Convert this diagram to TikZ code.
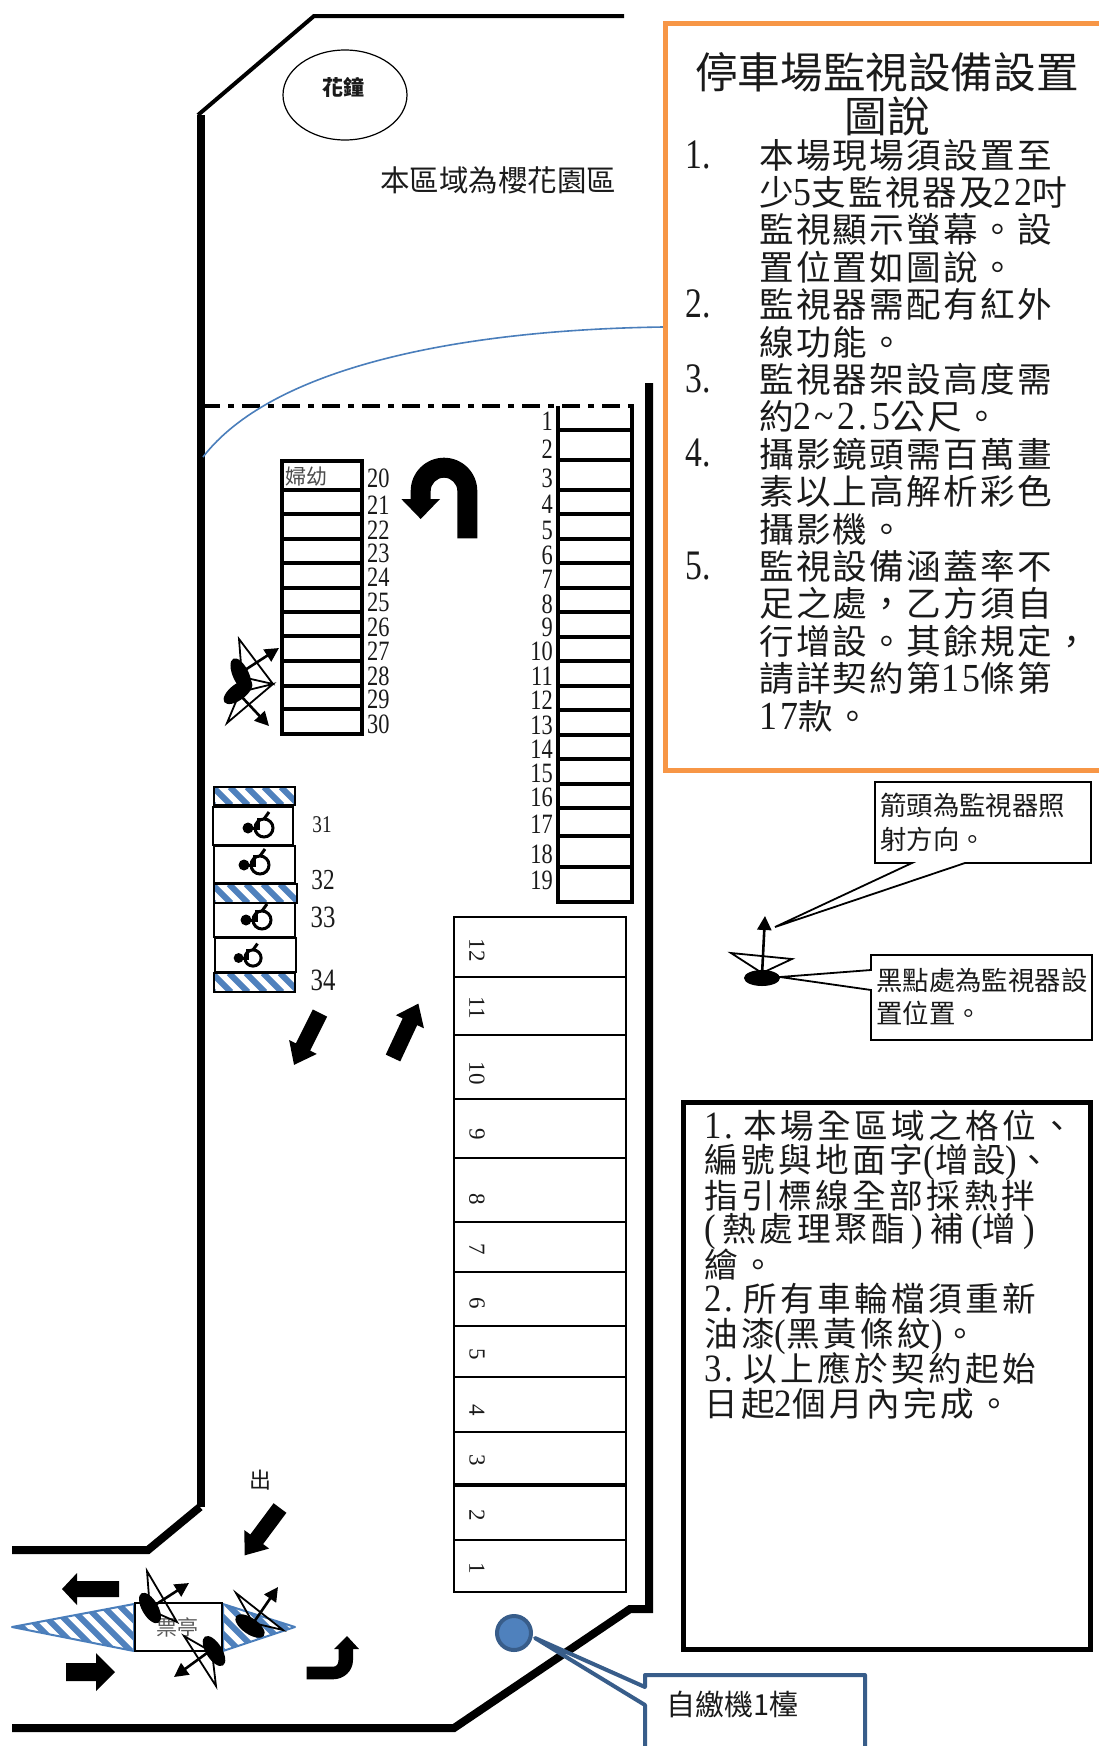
\documentclass[tikz,border=0pt]{standalone}
\usepackage{fontspec}
\setmainfont{Noto Sans CJK TC}
\newfontfamily\cjkair[LetterSpace=6.6]{Noto Sans CJK TC}
\newfontfamily\cjkwide[LetterSpace=10.5]{Noto Sans CJK TC}
\newfontfamily\lat{Liberation Serif}
\newfontfamily\latn[FakeStretch=0.8]{Liberation Serif}
\newfontfamily\latd[FakeStretch=0.9,Scale=1.15,LetterSpace=8]{Liberation Serif}
\usetikzlibrary{arrows.meta}
\newcommand\fs[1]{\fontsize{#1}{#1}\selectfont}
\newcommand\D[1]{{\latd #1}}
\newcommand\wcomma{\symbol{"FF0C}}
\definecolor{hatchblue}{HTML}{4F81BD}
\definecolor{linkblue}{HTML}{4A7EBB}
\definecolor{darkblue}{HTML}{385D8A}
\definecolor{boxorange}{HTML}{F79646}
\definecolor{inktext}{HTML}{1A1A1A}
\tikzset{
  wall/.style={line width=8pt,line join=miter},
  thinwall/.style={line width=4pt},
  row/.style={line width=3.5pt},
  thinrow/.style={line width=2.6pt},
  txt/.style={inner sep=0pt,text=inktext},
  leftnum/.style={txt,anchor=west,font=\latn\fs{28}},
  rightnum/.style={txt,anchor=east,font=\latn\fs{28}},
  rotnum/.style={txt,rotate=-90,font=\lat\fs{23}},
  lstitem/.style={txt,anchor=base west,font=\cjkair\fs{34.6}},
  lowitem/.style={txt,anchor=base west,font=\cjkwide\fs{33.6}},
  calltext/.style={txt,anchor=base west,font=\fs{26.4}},
  camtri/.style={draw=black,line width=1.8pt,fill=none},
  camarrow/.style={line width=2.6pt,-{Triangle[length=14pt,width=14pt]}},
  hatchline/.style={hatchblue,line width=6pt},
  wc/.style={line width=3pt}
}
\newcommand\hatchfill[5]{%
  \begin{scope}
    \clip #1;
    \pgfmathsetmacro\hh{#5-#4}
    \foreach \k in {0,...,40}{
      \pgfmathsetmacro\xa{#2-\hh+\k*17}
      \ifdim\xa pt<#3pt
        \draw[hatchline] (\xa,#4) -- ({\xa+\hh},#5);
      \fi
    }
  \end{scope}}
\newcommand\wheel[3]{%
  \begin{scope}[shift={(#1,#2)},scale=#3]
    \fill (-16,0) circle[radius=5.5pt];
    \draw[wc] (-16,0) -- (-5,0);
    \draw[wc] (-6,-10) -- (-6,2);
    \draw[wc] (0,-9) -- (5,-16);
    \draw[wc] (0,0) circle[radius=9pt];
  \end{scope}}
\newcommand\blk[7]{% x y angle length shaft head headlen
  \fill[shift={(#1,#2)},rotate=#3]
    (0,-#5/2) -- ({#4-#7},-#5/2) -- ({#4-#7},-#6/2) -- (#4,0)
    -- ({#4-#7},#6/2) -- ({#4-#7},#5/2) -- (0,#5/2) -- cycle;}
\begin{document}
\begin{tikzpicture}[x=1pt,y=-1pt]
\useasboundingbox (0,0) rectangle (1099,1746);
\fill[white] (0,0) rectangle (1099,1746);

% walls
\draw[thinwall] (198,115) -- (314,16) -- (624,16);
\draw[wall] (201,115) -- (201,1507);
\draw[wall] (12,1550) -- (148,1550) -- (200,1507);
\draw[wall] (12,1728) -- (454,1728) -- (630,1609) -- (649,1609) -- (649,383);
\draw[line width=3.2pt,dash pattern=on 18pt off 8pt on 6pt off 8pt] (202,406) -- (638,406);
\draw[linkblue,line width=1.6pt] (203,457) .. controls (270,370) and (450,330) .. (663,327);

% flower clock + zone label
\draw[line width=1.2pt] (345,95) ellipse[x radius=62pt,y radius=45pt];
\node[txt,font=\bfseries\fs{21}] (clock) at (343,87) {花鐘};
\node[txt,font=\fs{29.5}] (zone) at (498,180) {本區域為櫻花園區};

% right column 1-19
\draw[row] (558,406) -- (558,902) -- (632,902) -- (632,406);
\foreach \y in {430,460,490,514,539,563,588,612,637,661,686,710,735,759,784,808,836,867}
  \draw[row] (558,\y) -- (632,\y);
\foreach \n/\y in {1/421,2/449,3/478,4/504,5/530,6/555,7/579,8/604,9/627,10/651,11/676,12/700,13/725,14/749,15/773,16/797,17/824,18/854,19/880}
  \node[rightnum] (ra\n) at (553,\y) {\n};

% left column 20-30
\draw[row] (282,734) -- (282,461) -- (362,461) -- (362,734) -- cycle;
\foreach \y in {490,514,539,563,588,612,636,661,686,709}
  \draw[row] (282,\y) -- (362,\y);
\foreach \n/\y in {20/478,21/505,22/530,23/553,24/577,25/602,26/627,27/651,28/676,29/699,30/724}
  \node[leftnum] (la\n) at (367,\y) {\n};
\node[txt,anchor=west,font=\fs{21},text=black!70] (fy) at (285,477) {婦幼};

% U-turn arrow
\fill (477.3,538.3) -- (477.3,491)
  .. controls (477.3,472.6) and (462.4,457.7) .. (444,457.7)
  .. controls (425.6,457.7) and (410.7,472.6) .. (410.7,491)
  -- (410.7,499) -- (401.3,499) -- (420.7,519) -- (440,499) -- (430.7,499) -- (430.7,491)
  .. controls (430.7,483.7) and (436.7,477.7) .. (444,477.7)
  .. controls (451.3,477.7) and (457.3,483.7) .. (457.3,491)
  -- (457.3,538.3) -- cycle;

% disabled bays
\foreach \xa/\ya/\xb/\yb in {214/787/295/805,214/884/297/903,214/973/295/992}{
  \hatchfill{(\xa,\ya) rectangle (\xb,\yb)}{\xa}{\xb}{\ya}{\yb}
  \draw[line width=1.6pt] (\xa,\ya) rectangle (\xb,\yb);
}
\foreach \xa/\ya/\xb/\yb in {213/807/293/845,214/846/295/883,214/903/295/937,215/938/296/972}
  \draw[line width=1.2pt] (\xa,\ya) rectangle (\xb,\yb);
\wheel{264}{828}{1}
\wheel{260}{865}{1}
\wheel{262}{920}{1}
\wheel{253}{958}{0.9}
\node[txt,font=\latn\fs{24}] (n31) at (322,825) {31};
\node[txt,font=\latn\fs{29}] (n32) at (323,880) {32};
\node[txt,font=\latn\fs{31}] (n33) at (323,917) {33};
\node[txt,font=\latn\fs{31}] (n34) at (323,980) {34};

% lower column 1-12
\draw[thinrow] (454,917) rectangle (626,1592);
\foreach \y in {977,1035,1099,1158,1222,1272,1326,1377,1432,1540}
  \draw[thinrow] (454,\y) -- (626,\y);
\draw[line width=3.6pt] (454,1485) -- (626,1485);
\foreach \n/\y in {12/950,11/1008,10/1073,9/1134,8/1199,7/1249,6/1303,5/1354,4/1410,3/1460,2/1515,1/1568}
  \node[rotnum] (lo\n) at (477,\y) {\n};

% block arrows
\blk{320}{1013}{243.4}{58}{16}{31}{20}
\blk{393}{1058}{65}{60}{16}{31}{20}
\blk{280}{1508}{233.3}{59}{16}{31}{20}
\blk{119}{1589}{180}{57}{16}{32}{15}
\blk{66}{1672}{0}{49}{18}{38}{19}
\fill (306.7,1666.7) -- (333,1666.7)
  .. controls (336.5,1666.7) and (338.5,1664) .. (338.5,1660)
  -- (338.5,1649) -- (334,1649) -- (347,1636) -- (359,1649) -- (353,1649) -- (353,1660)
  .. controls (353,1671) and (344,1679.3) .. (333,1679.3)
  -- (306.7,1679.3) -- cycle;
\node[txt,font=\fs{22}] (out) at (260,1480) {出};

% ticket booth
\hatchfill{(12,1627) -- (134,1604) -- (134,1651) -- cycle}{12}{134}{1604}{1651}
\draw[linkblue,line width=2pt,line join=round] (12,1627) -- (134,1604) -- (134,1651) -- cycle;
\hatchfill{(223,1604) -- (295,1627) -- (223,1651) -- cycle}{223}{295}{1604}{1651}
\draw[linkblue,line width=2pt,line join=round] (223,1604) -- (295,1627) -- (223,1651) -- cycle;
\draw[line width=2.4pt,fill=white] (135,1603) rectangle (222,1651);
\node[txt,font=\fs{21},text=black!65] (booth) at (177,1627) {票亭};

% cameras
\draw[camtri] (147,1571) -- (150,1610) -- (177,1622) -- cycle;
\fill[rotate around={-60:(150,1608)}] (150,1608) ellipse[x radius=17pt,y radius=8pt];
\draw[camarrow] (155,1605) -- (189,1583);

\draw[camtri] (236,1593) -- (253,1623) -- (283,1630) -- cycle;
\fill[rotate around={-35:(250,1626)}] (250,1626) ellipse[x radius=17pt,y radius=8pt];
\draw[camarrow] (254,1622) -- (278,1587);

\draw[camtri] (184,1636) -- (212,1652) -- (216,1686) -- cycle;
\fill[rotate around={-58:(214,1651)}] (214,1651) ellipse[x radius=17pt,y radius=8pt];
\draw[camarrow] (207,1653) -- (174,1677);

\draw[camtri] (239,639) -- (242,677) -- (273,684) -- cycle;
\fill[rotate around={-65:(241,675)}] (241,675) ellipse[x radius=18pt,y radius=8pt];
\draw[camarrow] (245,670) -- (279,648);

\draw[camtri] (227,723) -- (240,692) -- (273,684) -- cycle;
\fill[rotate around={37:(238,692)}] (238,692) ellipse[x radius=17pt,y radius=8pt];
\draw[camarrow] (240,695) -- (269,726);

\draw[camtri] (731,953) -- (762,973) -- (792,959) -- cycle;
\fill (762,978) ellipse[x radius=18pt,y radius=8pt];
\draw[camarrow] (762,975) -- (765,916);

% orange box
\draw[boxorange,line width=5pt] (1110,23) -- (665,23) -- (665,770) -- (1110,770);
\node[txt,font=\fs{42.6}] (title1) at (887,72) {停車場監視設備設置};
\node[txt,font=\fs{42.6}] (title2) at (887,116) {圖說};
\foreach \t [count=\n from 0] in {
  {本場現場須設置至},
  {少\D{5}支監視器及\D{22}吋},
  {監視顯示螢幕。設},
  {置位置如圖說。},
  {監視器需配有紅外},
  {線功能。},
  {監視器架設高度需},
  {約\D{2\textasciitilde2.\kern5pt 5}公尺。},
  {攝影鏡頭需百萬畫},
  {素以上高解析彩色},
  {攝影機。},
  {監視設備涵蓋率不},
  {足之處\wcomma 乙方須自},
  {行增設。其餘規定\wcomma},
  {請詳契約第\D{15}條第},
  {\D{17}款。}}
  \node[lstitem] (li\n) at (759,{168+37.4*\n}) {\t};
\foreach \m/\y in {1/168,2/317,3/392,4/466,5/579}
  \node[lstitem,font=\latn\fs{42}] (ln\m) at (685,\y) {\m.};

% callouts
\draw[line width=1.8pt,fill=white,line join=miter] (875,782) -- (1091,782) -- (1091,863) -- (965,863) -- (775,927) -- (912,863) -- (875,863) -- cycle;
\node[calltext] (c1a) at (880,815) {箭頭為監視器照};
\node[calltext] (c1b) at (880,849) {射方向。};
\draw[line width=1.8pt,fill=white,line join=miter] (871,955) -- (1092,955) -- (1092,1040) -- (871,1040) -- (871,990) -- (780,977) -- (871,970) -- cycle;
\node[calltext] (c2a) at (876,990) {黑點處為監視器設};
\node[calltext] (c2b) at (876,1023) {置位置。};

% black note box
\draw[line width=5pt,line join=miter] (683,1102) rectangle (1090,1649);
\foreach \t/\y [count=\n] in {
  {\D{1. }\kern-6pt 本場全區域之格位、}/1126,
  {編號與地面字\D{(}增設\D{)}、}/1160,
  {指引標線全部採熱拌}/1196,
  {\D{(}\kern7pt 熱處理聚酯\kern7pt\D{)}\kern7pt 補\kern7pt\D{(}增\kern7pt\D{)}}/1229,
  {繪。}/1265,
  {\D{2. }\kern-6pt 所有車輪檔須重新}/1299,
  {油漆\D{(}黑黃條紋\D{)}。}/1334,
  {\D{3. }\kern-6pt 以上應於契約起始}/1369,
  {日起\D{2}個月內完成。}/1404}
  \node[lowitem] (lo-\n) at (704,{\y+12}) {\t};

% pay machine
\draw[darkblue,line width=4pt,fill=white,line join=round] (645,1760) -- (645,1705) -- (535,1638) -- (645,1687) -- (645,1675) -- (865,1675) -- (865,1760);
\draw[darkblue,line width=4pt,fill=hatchblue] (514,1633) circle[radius=17pt];
\node[txt,anchor=west,font=\fs{29}] (machine) at (666,1704) {自繳機1檯};
\end{tikzpicture}
\end{document}
